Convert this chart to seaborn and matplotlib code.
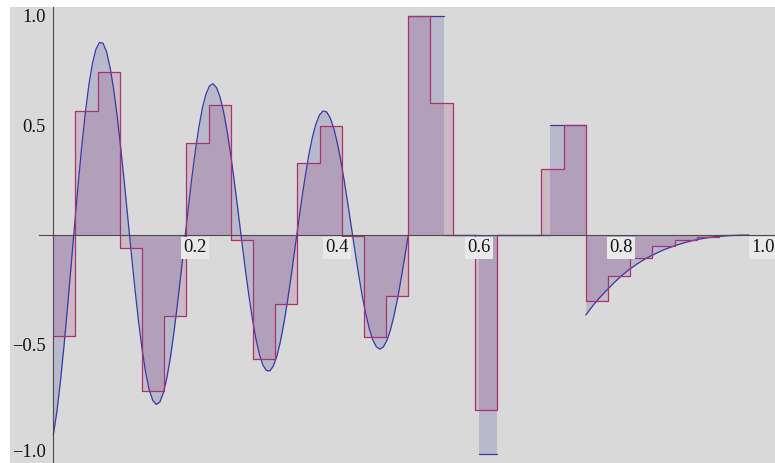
import numpy as np
import pandas as pd
import seaborn as sns
import matplotlib.pyplot as plt
from matplotlib.transforms import ScaledTranslation

sns.set_theme(style="white")
plt.rcParams['font.family'] = ['Liberation Serif', 'DejaVu Serif']

# oscillating part of the signal, sampled every 0.005 on [0, 0.5]
wave_y = [
    -0.913, -0.806, -0.669, -0.508, -0.330, -0.143, 0.047, 0.231, 0.402, 0.555,
    0.683, 0.781, 0.847, 0.878, 0.875, 0.836, 0.764, 0.665, 0.541, 0.396,
    0.240, 0.076, -0.088, -0.247, -0.393, -0.520, -0.626, -0.705, -0.754, -0.773,
    -0.762, -0.720, -0.651, -0.557, -0.442, -0.311, -0.170, -0.025, 0.120, 0.258,
    0.383, 0.492, 0.579, 0.643, 0.680, 0.690, 0.672, 0.628, 0.559, 0.470,
    0.363, 0.243, 0.115, -0.016, -0.145, -0.266, -0.375, -0.468, -0.541, -0.592,
    -0.618, -0.620, -0.597, -0.551, -0.484, -0.398, -0.298, -0.187, -0.069, 0.049,
    0.164, 0.272, 0.367, 0.447, 0.508, 0.548, 0.566, 0.561, 0.534, 0.487,
    0.420, 0.338, 0.243, 0.140, 0.032, -0.076, -0.180, -0.276, -0.359, -0.427,
    -0.479, -0.510, -0.521, -0.510, -0.480, -0.431, -0.366, -0.288, -0.197, -0.100,
    0.000,
]
wave_x = np.round(np.arange(len(wave_y)) * 0.005, 3)

# constant blocks of the signal on [0.5, 0.75]
block_start = [0.5, 0.55, 0.6, 0.625, 0.7]
block_end = [0.55, 0.6, 0.625, 0.7, 0.75]
block_val = [1.0, 0.0, -1.0, 0.0, 0.5]

# decaying tail, sampled every 0.01 from 0.75
tail_y = [-0.365, -0.322, -0.284, -0.250, -0.217, -0.187, -0.160, -0.137,
          -0.116, -0.098, -0.082, -0.067, -0.055, -0.044, -0.034, -0.026,
          -0.019, -0.013, -0.009, -0.006, -0.003, -0.0015, -0.0005, 0.0]
tail_x = np.round(0.75 + np.arange(len(tail_y)) * 0.01, 2)

# piecewise constant approximation, one value per 1/32 interval
step_val = [-0.46, 0.565, 0.745, -0.06, -0.71, -0.37, 0.42, 0.595,
            -0.025, -0.565, -0.315, 0.33, 0.495, -0.005, -0.467, -0.28,
            1.0, 0.6, 0.0, -0.8, 0.0, 0.0, 0.3, 0.5,
            -0.30, -0.186, -0.106, -0.05, -0.022, -0.008, -0.002]

x_ticks = [0.2, 0.4, 0.6, 0.8, 1.0]
x_tick_labels = ["0.2", "0.4", "0.6", "0.8", "1.0"]
y_ticks = [-1.0, -0.5, 0.5, 1.0]
y_tick_labels = ["\u22121.0", "\u22120.5", "0.5", "1.0"]

BLUE = (0.24, 0.24, 0.6)
BLUE_LINE = (0.22, 0.22, 0.66)
RED = (0.6, 0.24, 0.456)
RED_LINE = (0.66, 0.2, 0.43)

# collect the signal pieces into one long table
pieces = [pd.DataFrame({"piece": 0, "x": wave_x, "y": wave_y})]
for i, (a, b, v) in enumerate(zip(block_start, block_end, block_val)):
    pieces.append(pd.DataFrame({"piece": i + 1, "x": [a, b], "y": [v, v]}))
pieces.append(pd.DataFrame({"piece": len(pieces), "x": tail_x, "y": tail_y}))
signal = pd.concat(pieces, ignore_index=True)

edges = np.arange(len(step_val) + 1) / 32
steps = np.append(step_val, step_val[-1])

fig = plt.figure(figsize=(7.75, 4.63), dpi=100)
ax = fig.add_axes([10 / 775, 0, 765 / 775, 456 / 463])
ax.set_facecolor('#d9d9d9')

# fills
for _, g in signal.groupby("piece"):
    ax.fill_between(g["x"], g["y"], 0, color=BLUE, alpha=0.2, lw=0)
ax.fill_between(edges, steps, 0, step="post", color=RED, alpha=0.2, lw=0)

# lines
sns.lineplot(data=signal, x="x", y="y", units="piece", estimator=None,
             sort=False, color=BLUE_LINE, lw=0.9, ax=ax)
sns.lineplot(x=edges, y=steps, estimator=None, drawstyle="steps-post",
             color=RED_LINE, lw=0.9, ax=ax)

ax.set_xlim(-0.061, 1.0165)
ax.set_ylim(-1.04, 1.04)
ax.set_xlabel("")
ax.set_ylabel("")

# axes through the origin
for side in ["top", "right"]:
    ax.spines[side].set_visible(False)
ax.spines["left"].set_position(("data", 0))
ax.spines["bottom"].set_position(("data", 0))
ax.spines["bottom"].set_bounds(-0.02, 1.0165)
for side in ["left", "bottom"]:
    ax.spines[side].set_color('#4a4a4a')
    ax.spines[side].set_linewidth(0.8)
ax.set_axisbelow(False)

ax.set_xticks(x_ticks)
ax.set_xticklabels(x_tick_labels)
ax.set_xticks(np.arange(1, 21) * 0.05, minor=True)
ax.set_yticks(y_ticks)
ax.set_yticklabels(y_tick_labels)
ax.set_yticks(np.arange(-10, 11) * 0.1, minor=True)

ax.tick_params(which="major", direction="in", length=4, width=0.8,
               color='#333333', labelsize=13.3, labelcolor='#111111')
ax.tick_params(which="minor", direction="in", length=2.5, width=0.7,
               color='#333333')
ax.tick_params(axis="x", which="major", pad=3.2)
ax.tick_params(axis="y", which="major", pad=5.5)
for t in ax.get_xticklabels():
    t.set_bbox(dict(boxstyle="square,pad=0.12", fc='#e9e9e9', ec='none'))

# lift the bottom label a touch so it stays inside the picture
low = ax.get_yticklabels()[0]
low.set_transform(low.get_transform() + ScaledTranslation(0, 2.5 / 72, fig.dpi_scale_trans))

fig.savefig("out.png", dpi=100, facecolor='white')
